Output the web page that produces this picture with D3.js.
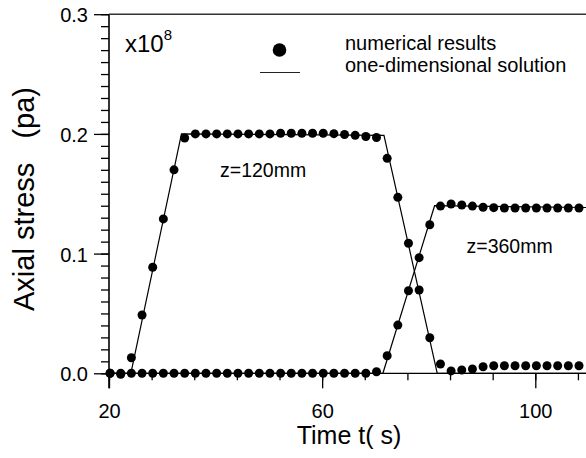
<!DOCTYPE html>
<html>
<head>
<meta charset="utf-8">
<script src="https://cdn.jsdelivr.net/npm/d3@7"></script>
<style>
  html, body { margin: 0; padding: 0; background: #fff; overflow: hidden; }
  text { font-family: "Liberation Sans", Arial, Helvetica, sans-serif; fill: #000; }
</style>
</head>
<body>
<svg id="chart" width="586" height="458"></svg>
<script>
// Sampling times of the numerical results (s)
const sampleTimes = [20.2, 22.2, 24.2, 26.2, 28.2, 30.2, 32.2, 34.2, 36.2, 38.2,
                     40.2, 42.2, 44.2, 46.2, 48.2, 50.2, 52.2, 54.2, 56.2, 58.2,
                     60.2, 62.2, 64.2, 66.2, 68.2, 70.2, 72.2, 74.2, 76.2, 78.2,
                     80.2, 82.2, 84.2, 86.2, 88.2, 90.2, 92.2, 94.2, 96.2, 98.2,
                     100.2, 102.2, 104.2, 106.2, 108.2];

// Numerical axial stress at z = 120 mm (x10^8 Pa)
const stressZ120 = [0, -0.0008, 0.013, 0.0487, 0.0886, 0.129, 0.170, 0.1966, 0.2, 0.2,
                    0.2, 0.2, 0.2, 0.2, 0.2, 0.2, 0.2005, 0.2005, 0.2005, 0.2005,
                    0.2005, 0.2002, 0.1995, 0.1988, 0.1978, 0.197, 0.1796, 0.147, 0.1086, 0.0696,
                    0.0297, 0.0078, 0.002, 0.0028, 0.0036, 0.0055, 0.0063, 0.0063, 0.0063, 0.0063,
                    0.0063, 0.0063, 0.0063, 0.0063, 0.0063];

// Numerical axial stress at z = 360 mm (x10^8 Pa)
const stressZ360 = [0, 0, 0, 0, 0, 0, 0, 0, 0, 0,
                    0, 0, 0, 0, 0, 0, 0, 0, 0, 0,
                    0, 0, 0, 0, 0, 0.0013, 0.0147, 0.0403, 0.069, 0.0966,
                    0.1241, 0.1397, 0.1414, 0.1406, 0.1397, 0.1387, 0.1384, 0.1381, 0.1381, 0.1381,
                    0.1381, 0.1381, 0.1381, 0.1381, 0.1381];

// One-dimensional solution (piecewise linear)
const solutionZ120Times = [20, 24.1, 33.6, 71.6, 81.6, 110];
const solutionZ120Values = [0, 0, 0.2, 0.1988, 0, 0];
const solutionZ360Times = [20, 71.4, 81.1, 110];
const solutionZ360Values = [0, 0, 0.14, 0.1385];

// Axis ticks
const yMajorTicks = [0, 0.1, 0.2, 0.3];
const yMinorTicks = [0, 0.01, 0.02, 0.03, 0.04, 0.05, 0.06, 0.07, 0.08, 0.09,
                     0.1, 0.11, 0.12, 0.13, 0.14, 0.15, 0.16, 0.17, 0.18, 0.19,
                     0.2, 0.21, 0.22, 0.23, 0.24, 0.25, 0.26, 0.27, 0.28, 0.29, 0.3];
const xMajorTicks = [20, 60, 100];
const xMinorTicks = [20, 28, 36, 44, 52, 60, 68, 76, 84, 92, 100, 108];

const svg = d3.select("#chart");

const x = d3.scaleLinear().domain([20, 100]).range([109, 535.3]);
const y = d3.scaleLinear().domain([0, 0.3]).range([373.3, 14.2]);

const axisX = x(20);
const rightEdge = 586;

// Frame lines: left axis (extends below zero), top line, zero line
const axes = svg.append("g").attr("stroke", "#000").attr("fill", "none");
axes.append("line")
  .attr("x1", axisX).attr("x2", axisX)
  .attr("y1", y(0.3)).attr("y2", y(0) + 15)
  .attr("stroke-width", 1.6);
axes.append("line")
  .attr("x1", axisX).attr("x2", rightEdge)
  .attr("y1", y(0.3)).attr("y2", y(0.3))
  .attr("stroke", "#333").attr("stroke-width", 1.4);
axes.append("line")
  .attr("x1", axisX).attr("x2", rightEdge)
  .attr("y1", y(0)).attr("y2", y(0))
  .attr("stroke-width", 1.2);

// Left axis ticks
const yMinor = svg.append("g").attr("transform", `translate(${axisX},0)`)
  .call(d3.axisLeft(y).tickValues(yMinorTicks).tickSize(8).tickFormat(""));
const yMajor = svg.append("g").attr("transform", `translate(${axisX},0)`)
  .call(d3.axisLeft(y).tickValues(yMajorTicks).tickSize(15).tickPadding(6)
        .tickFormat(d3.format(".1f")));
[yMinor, yMajor].forEach(g => {
  g.select(".domain").remove();
  g.selectAll("line").attr("stroke", "#000").attr("stroke-width", 1.3);
});
yMajor.selectAll("text")
  .attr("font-size", 20).attr("font-family", null).attr("dy", "0.38em");

// Bottom axis ticks (hanging from the zero line)
const xMinor = svg.append("g").attr("transform", `translate(0,${y(0)})`)
  .call(d3.axisBottom(x).tickValues(xMinorTicks).tickSize(7).tickFormat(""));
const xMajor = svg.append("g").attr("transform", `translate(0,${y(0)})`)
  .call(d3.axisBottom(x).tickValues(xMajorTicks).tickSize(15).tickFormat(d3.format("d")));
[xMinor, xMajor].forEach(g => {
  g.select(".domain").remove();
  g.selectAll("line").attr("stroke", "#000").attr("stroke-width", 1.3);
});
xMajor.selectAll("text")
  .attr("font-size", 20).attr("font-family", null)
  .attr("y", 45).attr("dy", 0);

// Solution lines
const line = d3.line().x(d => x(d[0])).y(d => y(d[1]));
const solutions = [
  d3.zip(solutionZ120Times, solutionZ120Values),
  d3.zip(solutionZ360Times, solutionZ360Values)
];
svg.append("g").selectAll("path").data(solutions).join("path")
  .attr("d", line)
  .attr("fill", "none")
  .attr("stroke", "#000")
  .attr("stroke-width", 1.2);

// Numerical results
const points = [
  ...d3.zip(sampleTimes, stressZ360),
  ...d3.zip(sampleTimes, stressZ120)
];
svg.append("g").selectAll("circle").data(points).join("circle")
  .attr("cx", d => x(d[0]))
  .attr("cy", d => y(d[1]))
  .attr("r", 4.5)
  .attr("fill", "#000");

// Scale factor
const scaleLabel = svg.append("text").attr("x", 125).attr("y", 52).attr("font-size", 24);
scaleLabel.append("tspan").text("x10");
scaleLabel.append("tspan").attr("font-size", 15).attr("dy", -12).text("8");

// Legend
svg.append("circle").attr("cx", 279.5).attr("cy", 50).attr("r", 6.8).attr("fill", "#000");
svg.append("line").attr("x1", 260).attr("x2", 300).attr("y1", 72.5).attr("y2", 72.5)
  .attr("stroke", "#222").attr("stroke-width", 1.1);
svg.append("text").attr("x", 345).attr("y", 50).attr("font-size", 20).text("numerical results");
svg.append("text").attr("x", 345).attr("y", 71.5).attr("font-size", 20).text("one-dimensional solution");

// Curve labels
svg.append("text").attr("x", 220).attr("y", 177).attr("font-size", 19.5).text("z=120mm");
svg.append("text").attr("x", 466.5).attr("y", 253).attr("font-size", 19.5).text("z=360mm");

// Axis titles
svg.append("text")
  .attr("x", 349).attr("y", 444)
  .attr("text-anchor", "middle")
  .attr("font-size", 25)
  .style("white-space", "pre")
  .text("Time t( s)");
svg.append("text")
  .attr("transform", "translate(34,199) rotate(-90)")
  .attr("text-anchor", "middle")
  .attr("font-size", 29)
  .style("white-space", "pre")
  .text("Axial stress   (pa)");
</script>
</body>
</html>
